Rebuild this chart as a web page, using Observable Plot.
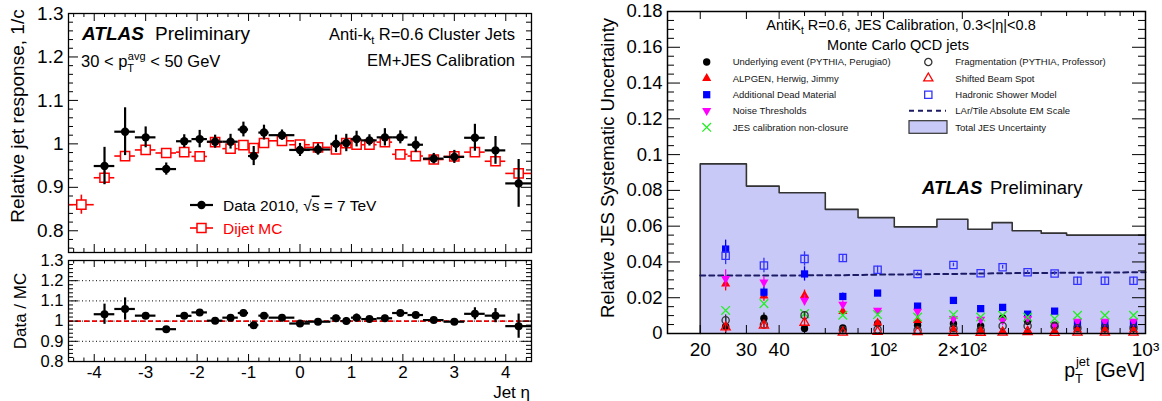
<!DOCTYPE html>
<html><head><meta charset="utf-8">
<script src="https://cdn.jsdelivr.net/npm/d3@7"></script>
<script src="https://cdn.jsdelivr.net/npm/@observablehq/plot@0.6"></script>
<style>
body{margin:0;background:#fff;}
#wrap{position:relative;width:1162px;height:401px;overflow:hidden;background:#fff;}
</style></head><body><div id="wrap"></div>
<script>
// ---------------- LEFT PANEL DATA ----------------
const etaCenters = [-4.25,-3.8,-3.4,-3.0,-2.6,-2.25,-1.95,-1.65,-1.35,-1.1,-0.9,-0.7,-0.35,0,0.35,0.7,0.9,1.1,1.35,1.65,1.95,2.25,2.6,3.0,3.4,3.8,4.25];
const etaLow  = [-4.5,-4.0,-3.6,-3.2,-2.8,-2.4,-2.1,-1.8,-1.5,-1.2,-1.0,-0.8,-0.6,-0.2,0.1,0.6,0.8,1.0,1.2,1.5,1.8,2.1,2.4,2.8,3.2,3.6,4.0];
const etaHigh = [-4.0,-3.6,-3.2,-2.8,-2.4,-2.1,-1.8,-1.5,-1.2,-1.0,-0.8,-0.6,-0.1,0.2,0.6,0.8,1.0,1.2,1.5,1.8,2.1,2.4,2.8,3.2,3.6,4.0,4.5];
const dataResponse = [null,0.949,1.028,1.015,0.942,1.006,1.011,1.005,1.005,1.033,0.972,1.026,1.020,0.986,0.987,1.000,1.002,1.011,1.008,1.015,1.015,0.998,0.966,0.970,1.014,0.985,0.909];
const dataError    = [null,0.043,0.055,0.024,0.014,0.015,0.020,0.015,0.017,0.017,0.022,0.017,0.012,0.015,0.013,0.020,0.020,0.018,0.013,0.020,0.015,0.018,0.012,0.015,0.031,0.032,0.055];
const mcResponse   = [0.860,0.922,0.972,0.986,0.979,0.981,0.971,1.004,0.989,0.997,0.990,1.002,1.007,0.998,0.992,0.987,1.0015,0.998,0.998,1.004,0.976,0.972,0.964,0.971,0.981,0.960,0.932];
const mcError      = [0.022,0.015,0.012,0.008,0.005,0.005,0.005,0.005,0.005,0.005,0.005,0.005,0.005,0.005,0.005,0.005,0.005,0.005,0.005,0.005,0.005,0.005,0.005,0.006,0.007,0.008,0.008];
const ratioValue   = [null,1.034,1.060,1.027,0.960,1.026,1.043,1.002,1.017,1.040,0.980,1.027,1.017,0.988,0.997,1.014,1.000,1.017,1.010,1.014,1.040,1.030,1.005,0.997,1.036,1.027,0.975];
const ratioError   = [null,0.050,0.055,0.015,0.008,0.012,0.012,0.010,0.012,0.015,0.015,0.015,0.010,0.012,0.010,0.015,0.018,0.018,0.010,0.015,0.010,0.015,0.010,0.012,0.030,0.035,0.060];
const etaTickValues = [-4,-3,-2,-1,0,1,2,3,4];
const respTickValues = [0.8,0.9,1.0,1.1,1.2,1.3];
const ratioGridValues = [0.9,1.1,1.2];

// ---------------- RIGHT PANEL DATA ----------------
const ptCenters = [25,35,50,70,95,135,185,235,285,355,450,550,700,900];
const ueVals        = [0.0040,0.0085,0.0028,0.0031,0.0055,0.0046,0.0055,0.0042,0.0087,0.0068,0.0046,0.0040,0.0040,0.0040];
const alpgenVals    = [0.0278,0.0210,0.0213,0.0124,0.0060,0.0074,0.0024,0.0018,0.0010,0.0018,0.0015,0.0022,0.0022,0.0022];
const deadMatVals   = [0.0472,0.0231,0.0333,0.0207,0.0226,0.0153,0.0185,0.0139,0.0146,0.0108,0.0125,0.0058,0.0058,0.0058];
const noiseVals     = [0.0306,0.0287,0.0185,0.0163,0.0129,0.0124,0.0083,0.0079,0.0074,0.0083,0.0045,0.0068,0.0068,0.0068];
const nonClosVals   = [0.0129,0.0167,0.0111,0.0102,0.0106,0.0092,0.0106,0.0092,0.0102,0.0092,0.0083,0.0102,0.0102,0.0102];
const fragVals      = [0.0074,0.0050,0.0102,0.0020,0.0022,0.0018,0.0030,0.0020,0.0042,0.0042,0.0040,0.0030,0.0030,0.0030];
const beamSpotVals  = [0.0035,0.0045,0.0061,0.0006,0.0010,0.0008,0.0005,0.0005,0.0006,0.0008,0.0004,0.0006,0.0006,0.0006];
const showerVals    = [0.0435,0.0380,0.0417,0.0422,0.0356,0.0333,0.0383,0.0337,0.0370,0.0342,0.0335,0.0295,0.0295,0.0295];
const ueErr       = [0.005,0.003,0.001,0.001,0.001,0,0,0,0,0,0,0,0,0];
const alpgenErr   = [0.004,0.003,0.003,0.002,0.001,0.001,0,0,0,0,0,0,0,0];
const deadMatErr  = [0.005,0.003,0.004,0.002,0.001,0,0,0,0,0,0,0,0,0];
const noiseErr    = [0.005,0.003,0.003,0.002,0.001,0,0,0,0,0,0,0,0,0];
const nonClosErr  = [0,0,0,0,0,0,0,0,0,0,0,0,0,0];
const fragErr     = [0.003,0.002,0.002,0.001,0,0,0,0,0,0,0,0,0,0];
const beamSpotErr = [0.003,0.002,0.002,0,0,0,0,0,0,0,0,0,0,0];
const showerErr   = [0.005,0.004,0.004,0.002,0.002,0.001,0.001,0,0.001,0.001,0.001,0.002,0.002,0.002];
const emScalePt   = [20,25,35,50,70,95,135,185,235,285,355,450,550,700,900,1000];
const emScaleVals = [0.0324,0.0324,0.0324,0.0325,0.0326,0.0329,0.0331,0.0333,0.0335,0.0337,0.0338,0.0339,0.0340,0.0341,0.0342,0.0343];
const totalEdges  = [20,30,40,60,80,110,160,210,260,310,400,500,600,800,1000];
const totalVals   = [0.0948,0.0824,0.0787,0.0694,0.0648,0.0596,0.0639,0.0583,0.0620,0.0574,0.0561,0.0550,0.0550,0.0550];
const ptTickValues = [20,30,40,100,200,1000];
const ptTickLabels = ["20","30","40","10\u00B2","2\u00D710\u00B2","10\u00B3"];
const uncTickValues = [0,0.02,0.04,0.06,0.08,0.1,0.12,0.14,0.16,0.18];

// ---------------- helpers ----------------
const FONT = '"Liberation Sans", Arial, Helvetica, sans-serif';
const wrap = document.getElementById("wrap");
function place(node, left, top) {
  node.style.position = "absolute"; node.style.left = left + "px"; node.style.top = top + "px";
  wrap.appendChild(node);
}
const rnd = v => Math.round(v * 1e6) / 1e6;
function minorTicks(start, stop, step, majors) {
  return d3.range(start, stop + step / 2, step).map(rnd).filter(v => !majors.some(m => Math.abs(m - v) < 1e-9));
}
function inwardTicks({xMajor = [], xMinor = [], yMajor = [], yMinor = [], innerW, innerH, xLen = [8, 4], yLen = [10, 5]}) {
  const o = {stroke: "black", strokeWidth: 1};
  return [
    Plot.tickX(xMajor, {x: d => d, insetTop: innerH - xLen[0], ...o}),
    Plot.tickX(xMajor, {x: d => d, insetBottom: innerH - xLen[0], ...o}),
    Plot.tickX(xMinor, {x: d => d, insetTop: innerH - xLen[1], ...o}),
    Plot.tickX(xMinor, {x: d => d, insetBottom: innerH - xLen[1], ...o}),
    Plot.tickY(yMajor, {y: d => d, insetRight: innerW - yLen[0], ...o}),
    Plot.tickY(yMajor, {y: d => d, insetLeft: innerW - yLen[0], ...o}),
    Plot.tickY(yMinor, {y: d => d, insetRight: innerW - yLen[1], ...o}),
    Plot.tickY(yMinor, {y: d => d, insetLeft: innerW - yLen[1], ...o})
  ];
}
const fmtPlain = d => String(+(+d).toFixed(2));

// ---------------- LEFT TOP ----------------
const rows = etaCenters.map((eta, i) => ({eta, lo: etaLow[i], hi: etaHigh[i], d: dataResponse[i], de: dataError[i], m: mcResponse[i], me: mcError[i], r: ratioValue[i], re: ratioError[i]}));
const dRows = rows.filter(r => r.d != null);
const rRows = rows.filter(r => r.r != null);
const etaMinor = minorTicks(-4.4, 4.4, 0.2, etaTickValues);

{
  const W = 540, H = 256, m = {l: 68, r: 9, t: 13, b: 4};
  const iw = W - m.l - m.r, ih = H - m.t - m.b;
  const p = Plot.plot({
    width: W, height: H, marginLeft: m.l, marginRight: m.r, marginTop: m.t, marginBottom: m.b,
    style: {fontFamily: FONT, background: "transparent", color: "black", overflow: "visible"},
    x: {domain: [-4.5, 4.5], axis: null},
    y: {domain: [0.75, 1.3]},
    marks: [
      Plot.axisY({ticks: respTickValues, tickSize: 0, tickPadding: 5, label: null, fontSize: 19, tickFormat: fmtPlain}),
      ...inwardTicks({xMajor: etaTickValues, xMinor: etaMinor, yMajor: respTickValues, yMinor: minorTicks(0.76, 1.3, 0.02, respTickValues), innerW: iw, innerH: ih, xLen: [8, 4], yLen: [10, 5]}),
      Plot.ruleY(rows, {y: "m", x1: "lo", x2: "hi", stroke: "red", strokeWidth: 1.6}),
      Plot.ruleX(rows, {x: "eta", y1: d => d.m - d.me, y2: d => d.m + d.me, stroke: "red", strokeWidth: 1.6}),
      Plot.dot(rows, {x: "eta", y: "m", symbol: "square", r: 5.2, fill: "white", stroke: "red", strokeWidth: 1.5}),
      Plot.ruleY(dRows, {y: "d", x1: "lo", x2: "hi", stroke: "black", strokeWidth: 2.2}),
      Plot.ruleX(dRows, {x: "eta", y1: d => d.d - d.de, y2: d => d.d + d.de, stroke: "black", strokeWidth: 2.2}),
      Plot.dot(dRows, {x: "eta", y: "d", r: 4.2, fill: "black"}),
      Plot.frame({stroke: "black", strokeWidth: 1.3})
    ]
  });
  place(p, 0, 0);
}

// ---------------- LEFT BOTTOM ----------------
{
  const W = 540, H = 151, m = {l: 68, r: 9, t: 10, b: 40};
  const iw = W - m.l - m.r, ih = H - m.t - m.b;
  const p = Plot.plot({
    width: W, height: H, marginLeft: m.l, marginRight: m.r, marginTop: m.t, marginBottom: m.b,
    style: {fontFamily: FONT, background: "transparent", color: "black", overflow: "visible"},
    x: {domain: [-4.5, 4.5]},
    y: {domain: [0.8, 1.3]},
    marks: [
      Plot.axisY({ticks: respTickValues, tickSize: 0, tickPadding: 5, label: null, fontSize: 16.5, tickFormat: fmtPlain}),
      Plot.axisX({ticks: etaTickValues, tickSize: 0, tickPadding: 4, label: null, fontSize: 17, tickFormat: d => d < 0 ? "-" + Math.abs(d) : String(d)}),
      Plot.ruleY(ratioGridValues, {stroke: "black", strokeWidth: 1, strokeDasharray: "1,2.5"}),
      Plot.ruleY([1], {stroke: "black", strokeWidth: 1, strokeDasharray: "1,2.5"}),
      Plot.ruleY([1], {stroke: "#ee0000", strokeWidth: 1.6, strokeDasharray: "5,3"}),
      ...inwardTicks({xMajor: etaTickValues, xMinor: etaMinor, yMajor: respTickValues, yMinor: minorTicks(0.82, 1.3, 0.02, respTickValues), innerW: iw, innerH: ih, xLen: [7, 3.5], yLen: [10, 5]}),
      Plot.ruleY(rRows, {y: "r", x1: "lo", x2: "hi", stroke: "black", strokeWidth: 2.2}),
      Plot.ruleX(rRows, {x: "eta", y1: d => d.r - d.re, y2: d => d.r + d.re, stroke: "black", strokeWidth: 2.2}),
      Plot.dot(rRows, {x: "eta", y: "r", r: 4, fill: "black"}),
      Plot.frame({stroke: "black", strokeWidth: 1.3})
    ]
  });
  place(p, 0, 250);
}

// ---------------- RIGHT PANEL ----------------
const triangleDown = {
  draw(ctx, size) {
    const y = -Math.sqrt(size / (Math.sqrt(3) * 3));
    ctx.moveTo(0, -y * 2);
    ctx.lineTo(-Math.sqrt(3) * y, y);
    ctx.lineTo(Math.sqrt(3) * y, y);
    ctx.closePath();
  }
};
const seriesDefs = [
  {label: "Underlying event (PYTHIA, Perugia0)", vals: ueVals, errs: ueErr, symbol: "circle", fill: "black", stroke: "none", r: 3.7, errColor: "black"},
  {label: "ALPGEN, Herwig, Jimmy", vals: alpgenVals, errs: alpgenErr, symbol: "triangle", fill: "#ff0000", stroke: "none", r: 3.4, errColor: "#ff0000"},
  {label: "Additional Dead Material", vals: deadMatVals, errs: deadMatErr, symbol: "square", fill: "#0000ff", stroke: "none", r: 4.1, errColor: "#0000ff"},
  {label: "Noise Thresholds", vals: noiseVals, errs: noiseErr, symbol: triangleDown, fill: "#ff00ff", stroke: "none", r: 3.4, errColor: "#ff00ff"},
  {label: "JES calibration non-closure", vals: nonClosVals, errs: nonClosErr, symbol: "times", fill: "none", stroke: "#22ee22", r: 4, errColor: "#22ee22"},
  {label: "Fragmentation (PYTHIA, Professor)", vals: fragVals, errs: fragErr, symbol: "circle", fill: "none", stroke: "#333", r: 3.6, errColor: "#333"},
  {label: "Shifted Beam Spot", vals: beamSpotVals, errs: beamSpotErr, symbol: "triangle", fill: "none", stroke: "#ff0000", r: 3.4, errColor: "#ff0000"},
  {label: "Hadronic Shower Model", vals: showerVals, errs: showerErr, symbol: "square", fill: "none", stroke: "#3333ff", r: 4.1, errColor: "#3333ff"}
];
const FILL_TOTAL = "#c9c9f8";
const EM_COLOR = "#1c1c66";
{
  const W = 582, H = 401, m = {l: 87, r: 17, t: 11, b: 68};
  const iw = W - m.l - m.r, ih = H - m.t - m.b;
  const histPts = totalEdges.map((e, i) => ({x: e, y: i < totalVals.length ? totalVals[i] : totalVals[totalVals.length - 1]}));
  const outlinePts = [{x: totalEdges[0], y: 0}, ...histPts];
  const emRows = emScalePt.map((x, i) => ({x, y: emScaleVals[i]}));
  const allTicks = [...d3.range(20, 100, 10), ...d3.range(100, 1000, 100), 1000];
  const xMinor = allTicks.filter(t => !ptTickValues.includes(t));
  const seriesMarks = [];
  for (const s of seriesDefs) {
    const pts = ptCenters.map((x, i) => ({x, y: s.vals[i], e: s.errs[i]}));
    seriesMarks.push(Plot.ruleX(pts.filter(p => p.e > 0), {x: "x", y1: p => Math.max(0, p.y - p.e), y2: p => p.y + p.e, stroke: s.errColor, strokeWidth: 1.3}));
    seriesMarks.push(Plot.dot(pts, {x: "x", y: "y", symbol: s.symbol, r: s.r, fill: s.fill, stroke: s.stroke, strokeWidth: 1.3}));
  }
  const p = Plot.plot({
    width: W, height: H, marginLeft: m.l, marginRight: m.r, marginTop: m.t, marginBottom: m.b,
    style: {fontFamily: FONT, background: "transparent", color: "black", overflow: "visible"},
    x: {type: "log", domain: [15, 1000]},
    y: {domain: [0, 0.18]},
    marks: [
      Plot.areaY(histPts, {x: "x", y: "y", curve: "step-after", fill: FILL_TOTAL}),
      Plot.line(outlinePts, {x: "x", y: "y", curve: "step-after", stroke: "#333", strokeWidth: 1.6}),
      Plot.axisY({ticks: uncTickValues, tickSize: 0, tickPadding: 5, label: null, fontSize: 18.5, tickFormat: d => d === 0 ? "0" : fmtPlain(d)}),
      Plot.axisX({ticks: ptTickValues, tickSize: 0, tickPadding: 9, label: null, fontSize: 19, tickFormat: d => ptTickLabels[ptTickValues.indexOf(d)]}),
      ...inwardTicks({xMajor: ptTickValues, xMinor, yMajor: uncTickValues, yMinor: minorTicks(0.005, 0.175, 0.005, uncTickValues), innerW: iw, innerH: ih, xLen: [8, 5], yLen: [13, 7]}),
      Plot.line(emRows, {x: "x", y: "y", stroke: EM_COLOR, strokeWidth: 2, strokeDasharray: "5,4"}),
      ...seriesMarks,
      Plot.frame({stroke: "black", strokeWidth: 1.5})
    ]
  });
  place(p, 580, 0);
}

// ---------------- OVERLAY TEXT & LEGENDS ----------------
const ov = d3.create("svg").attr("width", 1162).attr("height", 401)
  .style("position", "absolute").style("left", "0px").style("top", "0px")
  .style("font-family", FONT).style("overflow", "visible");
function txt(x, y, parts, {anchor = "start", size = 16, fill = "black", rotate = 0} = {}) {
  const t = ov.append("text").attr("x", x).attr("y", y).attr("text-anchor", anchor).attr("font-size", size).attr("fill", fill);
  if (rotate) t.attr("transform", `rotate(${rotate},${x},${y})`);
  for (const p of parts) {
    if (typeof p === "string") { t.append("tspan").text(p); continue; }
    const s = t.append("tspan").text(p.t);
    for (const k of ["dx", "dy", "font-size", "font-weight", "font-style", "fill", "text-decoration"]) if (p[k] != null) s.attr(k, p[k]);
  }
  return t;
}
// left panel annotations
txt(82, 39.5, [{t: "ATLAS", "font-weight": "bold", "font-style": "italic"}], {size: 19});
txt(155, 39.5, ["Preliminary"], {size: 19});
txt(81, 66.5, ["30 < p", {t: "T", dy: 5, "font-size": 11}, {t: "avg", dx: -5, dy: -12, "font-size": 11}, {t: " < 50 GeV", dy: 7}], {size: 16.5});
txt(515, 39.5, ["Anti-k", {t: "t", dy: 4, "font-size": 11}, {t: " R=0.6 Cluster Jets", dy: -4}], {size: 16.5, anchor: "end"});
txt(515, 66, ["EM+JES Calibration"], {size: 16.5, anchor: "end"});
txt(24, 116, ["Relative jet response, 1/c"], {size: 19, anchor: "middle", rotate: -90});
txt(26, 311, ["Data / MC"], {size: 17, anchor: "middle", rotate: -90});
txt(530, 398, ["Jet \u03B7"], {size: 17, anchor: "end"});
// left legend
ov.append("line").attr("x1", 190).attr("x2", 213).attr("y1", 205).attr("y2", 205).attr("stroke", "black").attr("stroke-width", 2.2);
ov.append("circle").attr("cx", 201.5).attr("cy", 205).attr("r", 4.2).attr("fill", "black");
txt(223, 210.5, ["Data 2010, \u221A", {t: "s", "text-decoration": "overline"}, " = 7 TeV"], {size: 15.5});
ov.append("line").attr("x1", 190).attr("x2", 213).attr("y1", 228).attr("y2", 228).attr("stroke", "red").attr("stroke-width", 1.6);
ov.append("rect").attr("x", 197).attr("y", 223.5).attr("width", 9).attr("height", 9).attr("fill", "white").attr("stroke", "red").attr("stroke-width", 1.5);
txt(223, 233.5, ["Dijet MC"], {size: 15.5, fill: "red"});

// right panel annotations
txt(901, 29.5, ["AntiK", {t: "t", dy: 4, "font-size": 10}, {t: " R=0.6, JES Calibration, 0.3<|\u03B7|<0.8", dy: -4}], {size: 14.5, anchor: "middle"});
txt(898, 49.5, ["Monte Carlo QCD jets"], {size: 14.5, anchor: "middle"});
txt(922, 193.5, [{t: "ATLAS", "font-weight": "bold", "font-style": "italic"}], {size: 18.5});
txt(990, 193.5, ["Preliminary"], {size: 18.5});
txt(614, 168, ["Relative JES Systematic Uncertainty"], {size: 18.5, anchor: "middle", rotate: -90});
txt(1145, 377, ["p", {t: "T", dy: 6, "font-size": 13}, {t: "jet", dx: -7, dy: -17, "font-size": 13}, {t: " [GeV]", dy: 11}], {size: 19.5, anchor: "end"});

// right legend
const legRowsY = [62, 78.3, 94.7, 110.7, 127.3];
const legCols = [{mx: 706.7, tx: 732.7}, {mx: 928.3, tx: 955.3}];
function legSymbol(s, cx, cy) {
  const size = Math.PI * s.r * s.r;
  const type = typeof s.symbol === "string"
    ? {circle: d3.symbolCircle, triangle: d3.symbolTriangle, square: d3.symbolSquare, times: d3.symbolTimes}[s.symbol]
    : s.symbol;
  ov.append("path").attr("d", d3.symbol(type, size)()).attr("transform", `translate(${cx},${cy})`)
    .attr("fill", s.fill).attr("stroke", s.stroke).attr("stroke-width", 1.3);
}
seriesDefs.forEach((s, i) => {
  const col = i < 5 ? legCols[0] : legCols[1];
  const row = i < 5 ? i : i - 5;
  legSymbol(s, col.mx, legRowsY[row]);
  txt(col.tx, legRowsY[row] + 3.4, [s.label], {size: 9.5, fill: "#151515"});
});
ov.append("line").attr("x1", 909).attr("x2", 946).attr("y1", legRowsY[3]).attr("y2", legRowsY[3]).attr("stroke", EM_COLOR).attr("stroke-width", 2).attr("stroke-dasharray", "5,4");
txt(955.3, legRowsY[3] + 3.4, ["LAr/Tile Absolute EM Scale"], {size: 9.5, fill: "#151515"});
ov.append("rect").attr("x", 909).attr("y", 120.7).attr("width", 38).attr("height", 12.6).attr("fill", FILL_TOTAL).attr("stroke", "#333").attr("stroke-width", 1.2);
txt(955.3, legRowsY[4] + 3.4, ["Total JES Uncertainty"], {size: 9.5, fill: "#151515"});

wrap.appendChild(ov.node());
</script></body></html>
